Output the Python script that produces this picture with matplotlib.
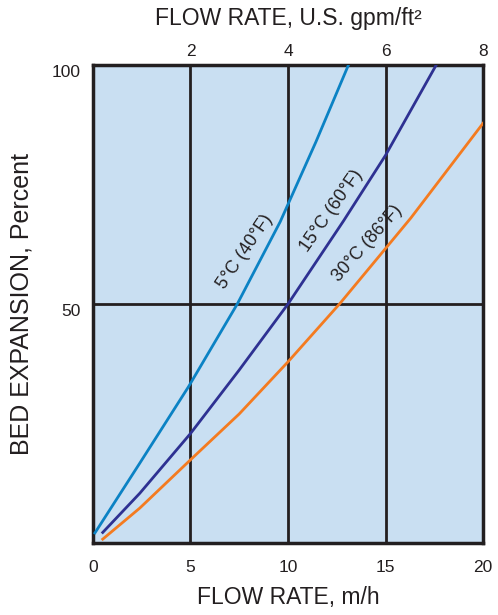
import matplotlib
matplotlib.use("Agg")
import matplotlib.pyplot as plt

plt.rcParams['font.family'] = ['Liberation Sans', 'DejaVu Sans']

# bed expansion vs. flow rate (m/h) at three water temperatures
x_5c = [0.1, 2.4, 4.9, 7.4, 9.6, 11.43, 13.1]
y_5c = [2.1, 16.7, 32.7, 50.0, 67.2, 83.9, 100.0]

x_15c = [0.5, 2.4, 5.0, 7.5, 10.0, 12.85, 15.0, 17.6]
y_15c = [2.2, 10.4, 22.9, 36.2, 50.0, 67.4, 81.1, 100.0]

x_30c = [0.5, 2.4, 5.0, 7.5, 10.0, 12.64, 15.0, 16.3, 20.0]
y_30c = [0.8, 7.3, 17.4, 27.0, 37.9, 50.0, 61.6, 68.0, 87.8]

labels = ["5°C (40°F)", "15°C (60°F)", "30°C (86°F)"]
bottom_ticks = [0, 5, 10, 15, 20]
top_ticks = [5, 10, 15, 20]
top_labels = ["2", "4", "6", "8"]
y_ticks = [50, 100]

ink = "#231f20"

fig = plt.figure(figsize=(4.98, 6.15), dpi=100)
ax = fig.add_axes([0.1867, 0.1171, 0.7832, 0.7772])
ax.set_facecolor("#c9dff2")
ax.set_xlim(0, 20)
ax.set_ylim(0, 100)

for v in [5, 10, 15]:
    ax.axvline(v, color=ink, lw=2.0, zorder=1)
ax.axhline(50, color=ink, lw=2.0, zorder=1)

ax.plot(x_5c, y_5c, color="#0b82c4", lw=2.0, zorder=3, solid_joinstyle="round")
ax.plot(x_15c, y_15c, color="#2e3192", lw=2.0, zorder=3, solid_joinstyle="round")
ax.plot(x_30c, y_30c, color="#f47b20", lw=2.0, zorder=3, solid_joinstyle="round")

ax.text(7.8, 60.9, labels[0], rotation=56, ha="center", va="center", fontsize=13, color=ink)
ax.text(12.23, 69.5, labels[1], rotation=55, ha="center", va="center", fontsize=13, color=ink)
ax.text(14.08, 62.6, labels[2], rotation=48.5, ha="center", va="center", fontsize=13, color=ink)

for s in ax.spines.values():
    s.set_linewidth(2.5)
    s.set_color(ink)

ax.set_xticks(bottom_ticks)
ax.set_yticks(y_ticks)
ax.tick_params(axis="x", length=0, labelsize=12.5, pad=12, colors=ink)
ax.tick_params(axis="y", length=0, labelsize=12.5, pad=9, colors=ink)
for lbl in ax.get_yticklabels():
    lbl.set_va("top")
ax.set_xlabel("FLOW RATE, m/h", fontsize=16.5, color=ink, labelpad=8)
ax.set_ylabel("BED EXPANSION, Percent", fontsize=18, color=ink, labelpad=13)

top = ax.twiny()
top.set_xlim(ax.get_xlim())
top.set_xticks(top_ticks)
top.set_xticklabels(top_labels)
top.tick_params(length=0, labelsize=12.5, pad=4, colors=ink)
top.set_xlabel("FLOW RATE, U.S. gpm/ft²", fontsize=16.5, color=ink, labelpad=14)
for s in top.spines.values():
    s.set_visible(False)

fig.savefig("out.png", dpi=100)
